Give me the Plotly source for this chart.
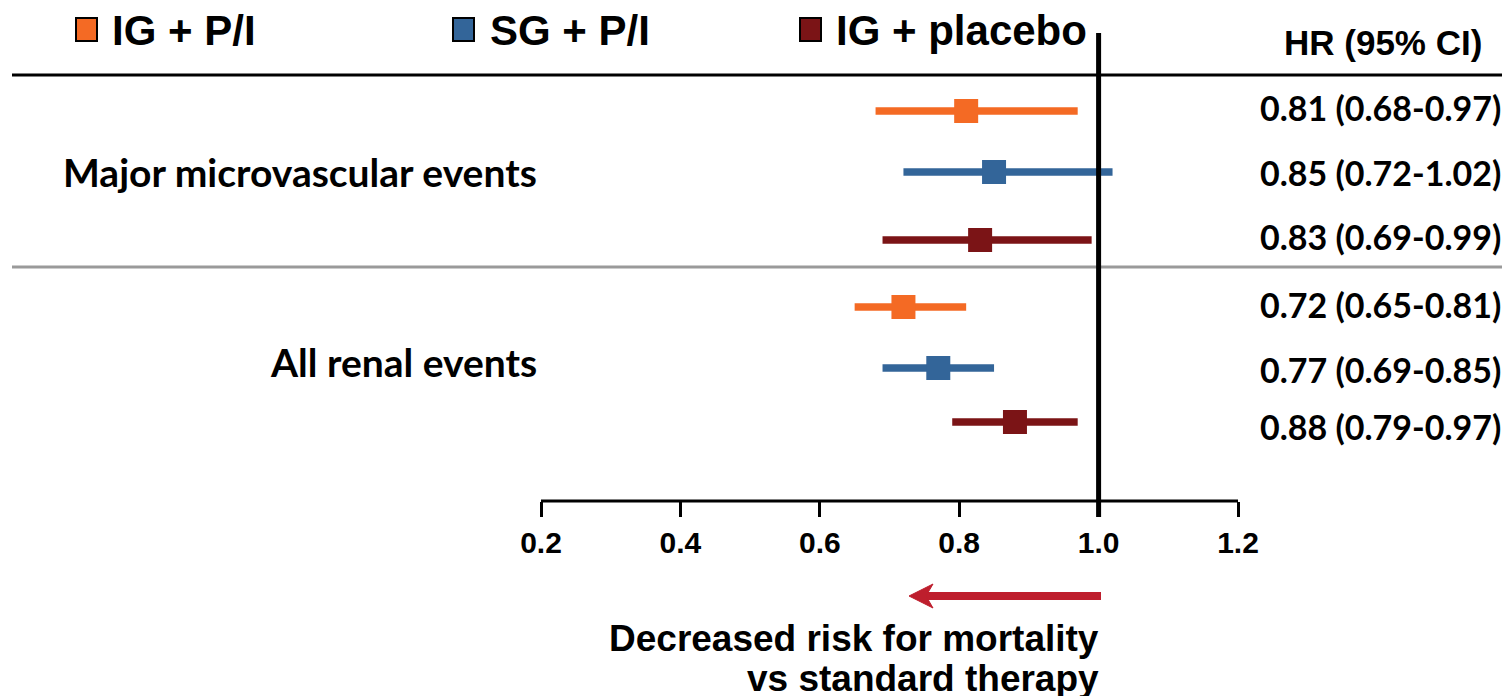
import plotly.graph_objects as go

# ---------------- data ----------------
outcomes = ["Major microvascular events", "All renal events"]
series_names = ["IG + P/I", "SG + P/I", "IG + placebo"]

hr_ig_pi = [0.81, 0.72]
lo_ig_pi = [0.68, 0.65]
hi_ig_pi = [0.97, 0.81]

hr_sg_pi = [0.85, 0.77]
lo_sg_pi = [0.72, 0.69]
hi_sg_pi = [1.02, 0.85]

hr_ig_pl = [0.83, 0.88]
lo_ig_pl = [0.69, 0.79]
hi_ig_pl = [0.99, 0.97]

tick_vals = [0.2, 0.4, 0.6, 0.8, 1.0, 1.2]
tick_text = ["0.2", "0.4", "0.6", "0.8", "1.0", "1.2"]

# ---------------- layout helpers (screen pixel geometry) ----------------
W, H = 1510, 696
OFF = 8                               # page body margin
X_PX0, X_PX1 = 541, 1238              # screen pixel of 0.2 and 1.2
UNIT = (X_PX1 - X_PX0) / 1.0
x_range = [0.2 + (OFF - X_PX0) / UNIT, 0.2 + (OFF + W - X_PX0) / UNIT]
y_range = [H + OFF, OFF]              # y axis measured in screen pixels (top = small)
AXIS_Y = 501

row_y = {
    "IG + P/I": [111, 307],
    "SG + P/I": [172, 368],
    "IG + placebo": [240, 422],
}
label_y = {
    "IG + P/I": [107, 304],
    "SG + P/I": [172, 369],
    "IG + placebo": [236, 426],
}
outcome_label_y = [172, 362]
colors = {"IG + P/I": "#F46A24", "SG + P/I": "#336599", "IG + placebo": "#7B1416"}

data = {
    "IG + P/I": (hr_ig_pi, lo_ig_pi, hi_ig_pi),
    "SG + P/I": (hr_sg_pi, lo_sg_pi, hi_sg_pi),
    "IG + placebo": (hr_ig_pl, lo_ig_pl, hi_ig_pl),
}

ARIAL = "Liberation Sans, Arial, sans-serif"
CALIB = "Lato, Liberation Sans, sans-serif"


def px(x):
    return (x - OFF) / W


def py(y):
    return 1 - (y - OFF) / H


fig = go.Figure()

for name in series_names:
    hr, lo, hi = data[name]
    fig.add_trace(go.Scatter(
        x=hr, y=row_y[name], mode="markers", name=name, showlegend=False,
        marker=dict(symbol="square", size=24, color=colors[name], line=dict(width=0)),
        error_x=dict(type="data", symmetric=False,
                     array=[u - v for u, v in zip(hi, hr)],
                     arrayminus=[v - l for v, l in zip(hr, lo)],
                     color=colors[name], thickness=7.5, width=0),
    ))

annotations = []
for name in series_names:
    hr, lo, hi = data[name]
    for i in range(len(outcomes)):
        annotations.append(dict(
            text=f"{hr[i]:.2f} ({lo[i]:.2f}-{hi[i]:.2f})",
            xref="paper", yref="y", x=px(1503), y=label_y[name][i],
            xanchor="right", yanchor="middle", showarrow=False,
            font=dict(family=CALIB, size=34, color="black", weight="bold"),
        ))
for i, o in enumerate(outcomes):
    annotations.append(dict(
        text=o, xref="paper", yref="y", x=px(539), y=outcome_label_y[i],
        xanchor="right", yanchor="middle", showarrow=False,
        font=dict(family=CALIB, size=39, color="black", weight="bold"),
    ))
annotations.append(dict(
    text="HR (95% CI)", xref="paper", yref="y", x=px(1484), y=42,
    xanchor="right", yanchor="middle", showarrow=False,
    font=dict(family=ARIAL, size=35, color="black", weight="bold"),
))
legend_sq_x = [76, 453, 800]
legend_txt_x = [110, 488, 834]
for name, sx, tx in zip(series_names, legend_sq_x, legend_txt_x):
    annotations.append(dict(
        text=name, xref="paper", yref="y", x=px(tx), y=30,
        xanchor="left", yanchor="middle", showarrow=False,
        font=dict(family=ARIAL, size=42, color="black", weight="bold"),
    ))
annotations.append(dict(
    text="Decreased risk for mortality", xref="paper", yref="y", x=px(1101), y=638,
    xanchor="right", yanchor="middle", showarrow=False,
    font=dict(family=ARIAL, size=37, color="black", weight="bold"),
))
annotations.append(dict(
    text="vs standard therapy", xref="paper", yref="y", x=px(1101), y=678,
    xanchor="right", yanchor="middle", showarrow=False,
    font=dict(family=ARIAL, size=37, color="black", weight="bold"),
))

shapes = []
shapes.append(dict(type="line", xref="paper", yref="y", x0=px(12), x1=1, y0=75, y1=75,
                   line=dict(color="black", width=3), layer="below"))
shapes.append(dict(type="line", xref="paper", yref="y", x0=px(12), x1=1, y0=267, y1=267,
                   line=dict(color="#9a9a9a", width=3), layer="below"))
shapes.append(dict(type="line", xref="x", yref="y", x0=0.2, x1=1.2, y0=AXIS_Y, y1=AXIS_Y,
                   line=dict(color="black", width=3)))
shapes.append(dict(type="line", xref="x", yref="y", x0=1.0, x1=1.0, y0=33, y1=517,
                   line=dict(color="black", width=5), layer="above"))
arrow_col = "#BE1E2D"
shapes.append(dict(type="line", xref="paper", yref="y", x0=px(925), x1=px(1101), y0=596, y1=596,
                   line=dict(color=arrow_col, width=8)))
shapes.append(dict(type="path", xref="paper", yref="paper",
                   path=f"M {px(909)} {py(596)} L {px(933)} {py(584)} L {px(926)} {py(596)} L {px(933)} {py(608)} Z",
                   fillcolor=arrow_col, line=dict(color=arrow_col, width=1)))
for name, sx in zip(series_names, legend_sq_x):
    shapes.append(dict(type="rect", xref="paper", yref="y", x0=px(sx), x1=px(sx + 21), y0=18, y1=41,
                       fillcolor=colors[name], line=dict(color="black", width=2)))

fig.update_layout(
    width=W, height=H, margin=dict(l=0, r=0, t=0, b=0),
    paper_bgcolor="white", plot_bgcolor="white",
    xaxis=dict(range=x_range, tickvals=tick_vals, ticktext=tick_text,
               showgrid=False, zeroline=False, showline=False,
               ticks="outside", ticklen=15, tickwidth=3, tickcolor="black",
               tickfont=dict(family=ARIAL, size=30, color="black", weight="bold"),
               anchor="free", position=1 - (AXIS_Y - OFF) / H, fixedrange=True),
    yaxis=dict(range=y_range, showgrid=False, zeroline=False, showline=False,
               showticklabels=False, ticks="", fixedrange=True),
    annotations=annotations, shapes=shapes, showlegend=False,
)

fig.write_html("out.html")
